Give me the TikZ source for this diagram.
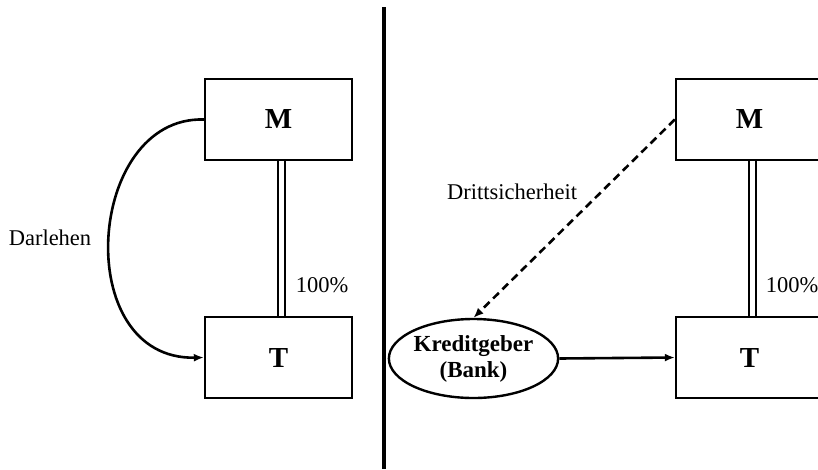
\documentclass[tikz,border=0pt]{standalone}
\usepackage{fontspec}
\setmainfont{Liberation Serif}
\usetikzlibrary{arrows.meta,shapes.geometric}
\begin{document}
\begin{tikzpicture}[x=1pt,y=-1pt,
  box/.style={draw,line width=2.4pt,minimum width=147pt,minimum height=81pt,inner sep=0pt,
    font=\fontsize{29}{32}\selectfont\bfseries},
  bank/.style={draw,ellipse,line width=2.4pt,minimum width=158pt,minimum height=79pt,inner sep=0pt,
    align=center,font=\fontsize{23}{26}\selectfont\bfseries},
  lbl/.style={font=\fontsize{22.5}{26}\selectfont,inner sep=0pt},
  share/.style={double distance=4.5pt,line width=2.4pt},
  conn/.style={line width=2.6pt,-{Latex[length=10pt,width=8pt]}},
]
\useasboundingbox (0,0) rectangle (818,469);
\fill[white] (0,0) rectangle (818,469);

% divider between the two cases
\draw[line width=3.2pt] (384,7) -- (384,469);

% left case: loan from parent to subsidiary
\node[box] (M1) at (278.5,119.5) {M};
\node[box] (T1) at (278.5,357.5) {T};
\draw[share] ([xshift=3pt]M1.south) -- ([xshift=3pt]T1.north);
\node[lbl] (p1) at (322,285) {100\%};
\draw[conn] (M1.west) .. controls (86,116) and (70,360) .. (T1.west);
\node[lbl] (d1) at (50,238) {Darlehen};

% right case: bank loan secured by the parent
\node[box] (M2) at (749.5,119.5) {M};
\node[box] (T2) at (749.5,357.5) {T};
\draw[share] ([xshift=3pt]M2.south) -- ([xshift=3pt]T2.north);
\node[lbl] (p2) at (792,285) {100\%};
\node[bank] (K) at (473.5,358.5) {Kreditgeber\\(Bank)};
\draw[conn,dash pattern=on 8pt off 5pt] (M2.west) -- (K.north);
\draw[conn] (K.east) -- (T2.west);
\node[lbl] (ds) at (512,192) {Drittsicherheit};
\end{tikzpicture}
\end{document}
